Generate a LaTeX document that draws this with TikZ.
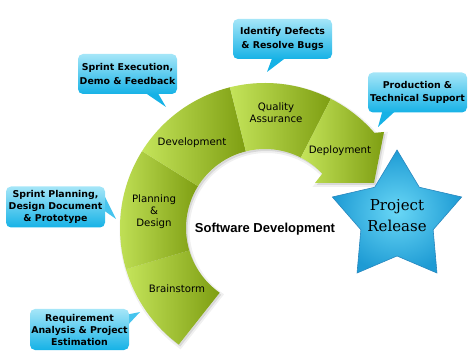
\documentclass[tikz,border=0pt]{standalone}
\usepackage{fontspec}
\setmainfont{DejaVu Sans}
\newfontfamily\segfont{DejaVu Sans}
\newfontfamily\titlefont{Liberation Sans}
\newfontfamily\starfont{DejaVu Serif}
\usetikzlibrary{calc}
\pgfdeclarelayer{bg}
\pgfsetlayers{bg,main}
\definecolor{gl}{RGB}{196,228,90}
\definecolor{gd}{RGB}{126,158,18}
\definecolor{ct}{RGB}{165,230,248}
\definecolor{cb}{RGB}{22,178,230}
\definecolor{cm}{RGB}{70,196,238}
\definecolor{sl}{RGB}{105,215,246}
\definecolor{sd}{RGB}{30,155,212}
\definecolor{se}{RGB}{40,135,190}
\begin{document}
\begin{tikzpicture}[x=1pt,y=1pt,
  seg/.style={left color=gl, right color=gd},
  seglabel/.style={font=\segfont\fontsize{10.2}{12}\selectfont, align=center, text=black, inner sep=0pt},
  callout/.style={rounded corners=5pt, top color=ct, bottom color=cb, minimum width=99pt, minimum height=40pt, inner sep=0pt, align=center, font=\bfseries\fontsize{9.4}{13.5}\selectfont},
  callout3/.style={callout, font=\bfseries\fontsize{9.4}{12}\selectfont, minimum height=41pt},
  tailb/.style={fill=cb},
  tails/.style={fill=cm},
]
\useasboundingbox (0,0) rectangle (473,361);

% ring shadow
\begin{scope}[shift={(266.5,131)}]
\path[fill=black, fill opacity=0.10, draw=black, draw opacity=0.06, line width=4pt]
  (235:79pt) -- (233.5:145pt) arc[start angle=233.5, end angle=41, radius=145pt]
  -- (119,96) -- (109,45) -- (50,45) -- (43.5:79pt)
  arc[start angle=43.5, end angle=235, radius=79pt] -- cycle;
\end{scope}

% ring segments
\begin{scope}[shift={(265,133)}]
\shade[seg] (235:79pt) -- (233.5:145pt) arc[start angle=233.5, end angle=196.5, radius=145pt]
  -- (196.5:79pt) arc[start angle=196.5, end angle=235, radius=79pt] -- cycle;
\shade[seg] (196.5:79pt) -- (196.5:145pt) arc[start angle=196.5, end angle=148, radius=145pt]
  -- (148:79pt) arc[start angle=148, end angle=196.5, radius=79pt] -- cycle;
\shade[seg] (148:79pt) -- (148:145pt) arc[start angle=148, end angle=104, radius=145pt]
  -- (104:79pt) arc[start angle=104, end angle=148, radius=79pt] -- cycle;
\shade[seg] (104:79pt) -- (104:145pt) arc[start angle=104, end angle=63, radius=145pt]
  -- (63:79pt) arc[start angle=63, end angle=104, radius=79pt] -- cycle;
\shade[seg] (63:79pt) -- (63:145pt) arc[start angle=63, end angle=41, radius=145pt]
  -- (119,96) -- (109,45) -- (50,45) -- (43.5:79pt)
  arc[start angle=43.5, end angle=63, radius=79pt] -- cycle;
\end{scope}

% star
\begin{scope}[shift={(397,143)}]
\shade[inner color=sl, outer color=sd, draw=se, line width=0.6pt]
  (90:68pt) -- (54:38pt) -- (18:68pt) -- (-18:38pt) -- (-54:68pt) -- (-90:38pt)
  -- (-126:68pt) -- (-162:38pt) -- (162:68pt) -- (126:38pt) -- cycle;
\end{scope}

% labels
\node[seglabel] (brain) at (177,72) {Brainstorm};
\node[seglabel] (plan) at (154,149) {Planning\\\&\\Design};
\node[seglabel] (dev) at (192,218) {Development};
\node[seglabel] (qa) at (276,248) {Quality\\Assurance};
\node[seglabel] (dep) at (340,210) {Deployment};
\node[font=\titlefont\bfseries\fontsize{13}{15}\selectfont, inner sep=0pt] (sd) at (265,132) {Software Development};
\node[font=\starfont\fontsize{15}{21}\selectfont, align=center, inner sep=0pt] (rel) at (397,145) {Project\\Release};

% callouts
\node[callout] (c1) at (127.5,287) {Sprint Execution,\\Demo \& Feedback};
\node[callout] (c2) at (282.5,322) {Identify Defects\\\& Resolve Bugs};
\node[callout] (c3) at (417.5,268.5) {Production \&\\Technical Support};
\node[callout3] (c4) at (55.5,154) {Sprint Planning,\\Design Document\\\& Prototype};
\node[callout3] (c5) at (79.5,31.5) {Requirement\\Analysis \& Project\\Estimation};

\coordinate (t1) at (166,254);
\coordinate (t2) at (267,289);
\coordinate (t3) at (378,234);
\coordinate (t4) at (116,142);
\coordinate (t5) at (140,49);

\begin{pgfonlayer}{bg}
\fill[tailb] ([xshift=65pt,yshift=3pt]c1.south west) -- (t1) -- ([xshift=79pt,yshift=3pt]c1.south west) -- cycle;
\fill[tailb] ([xshift=40pt,yshift=3pt]c2.south west) -- (t2) -- ([xshift=55pt,yshift=3pt]c2.south west) -- cycle;
\fill[tailb] ([xshift=15pt,yshift=3pt]c3.south west) -- (t3) -- ([xshift=29pt,yshift=3pt]c3.south west) -- cycle;
\fill[tails] ([xshift=-3pt,yshift=-5pt]c4.north east) -- (t4) -- ([xshift=-3pt,yshift=-23pt]c4.north east) -- cycle;
\fill[tails] ([xshift=-3pt,yshift=-6pt]c5.north east) -- (t5) -- ([xshift=-3pt,yshift=-18pt]c5.north east) -- cycle;
\end{pgfonlayer}
\end{tikzpicture}
\end{document}
